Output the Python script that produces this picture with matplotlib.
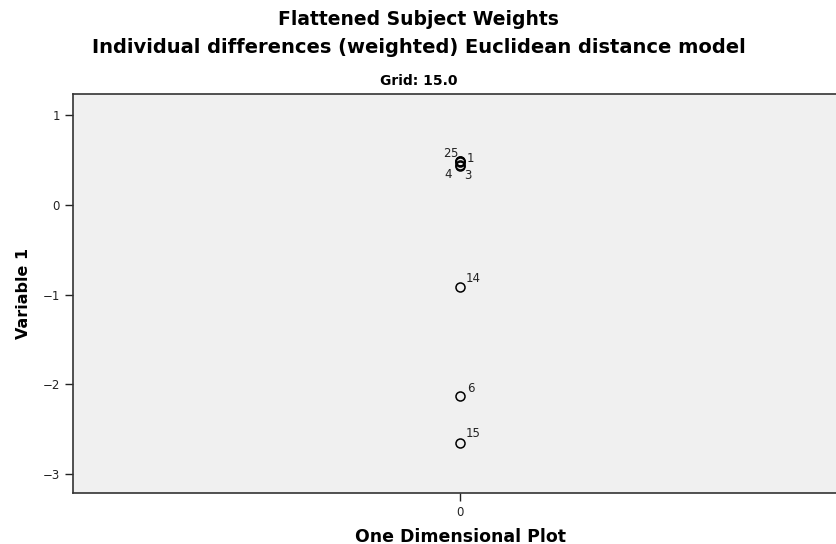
import matplotlib.pyplot as plt
import numpy as np

# subject weights (one dimension)
subjects = ["1", "2", "3", "4", "5", "6", "14", "15"]
dim1 = [0.48, 0.49, 0.43, 0.44, 0.49, -2.13, -0.92, -2.65]

# label placement (offset in points from the marker)
offsets = {"1": (5, 0), "2": (-12.5, 3), "3": (3, -9), "4": (-11, -9),
           "5": (-7, 3), "6": (5, 3), "14": (4, 4), "15": (4, 4)}

fig = plt.figure(figsize=(8.37, 5.44), dpi=100)
ax = fig.add_axes([0.0872, 0.0938, 0.925, 0.7335])
ax.set_facecolor("#f0f0f0")

x = np.zeros(len(dim1))
ax.plot(x, dim1, "o", mfc="none", mec="black", mew=1.1, ms=6.5, clip_on=False)
for s, xv, yv in zip(subjects, x, dim1):
    dx, dy = offsets[s]
    ax.annotate(s, (xv, yv), xytext=(dx, dy), textcoords="offset points",
                fontsize=8.5, color="#222222")

ax.set_xlim(-1, 1)
ax.set_ylim(-3.21, 1.235)
ax.set_xticks([0])
ax.set_yticks([1, 0, -1, -2, -3])
ax.tick_params(direction="out", length=6, width=1, labelsize=8.5, colors="#222222")
for sp in ax.spines.values():
    sp.set_linewidth(1.2)
    sp.set_color("#333333")
ax.spines["right"].set_visible(False)

ax.set_ylabel("Variable 1", fontsize=11.5, fontweight="bold", labelpad=8)
ax.set_xlabel("One Dimensional Plot", fontsize=12.5, fontweight="bold", labelpad=6)

fig.text(0.5, 0.965, "Flattened Subject Weights", ha="center", va="center",
         fontsize=13.5, fontweight="bold")
fig.text(0.5, 0.912, "Individual differences (weighted) Euclidean distance model",
         ha="center", va="center", fontsize=14, fontweight="bold")
fig.text(0.5, 0.851, "Grid: 15.0", ha="center", va="center",
         fontsize=10, fontweight="bold")

fig.savefig("out.png", dpi=100)
